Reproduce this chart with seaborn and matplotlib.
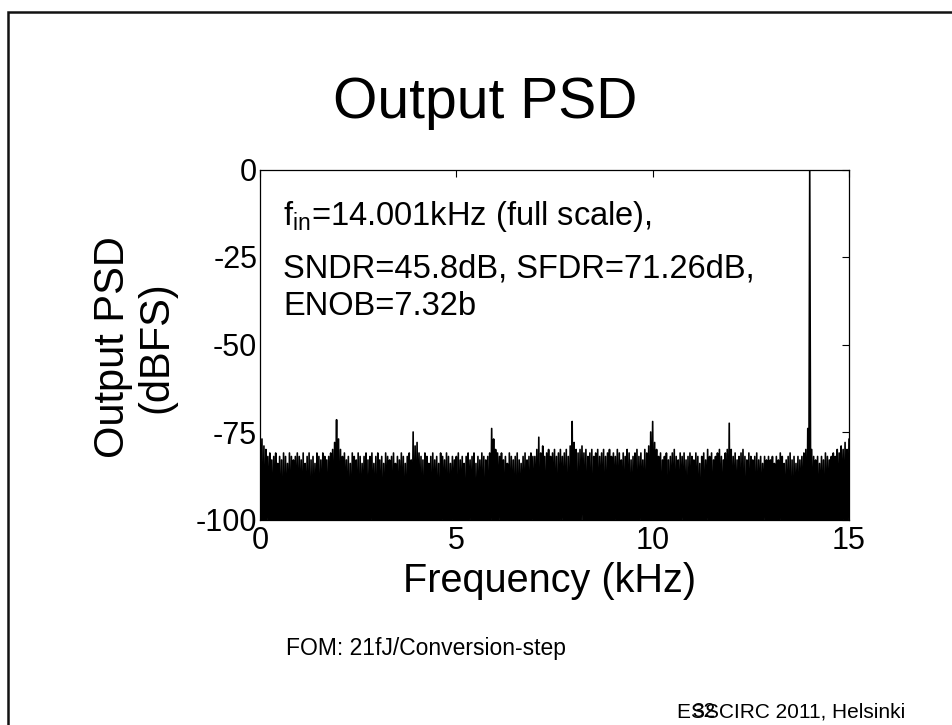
import numpy as np
import pandas as pd
import matplotlib
matplotlib.use("Agg")
import matplotlib.pyplot as plt
import seaborn as sns
from matplotlib.patches import Rectangle

# ---------------- data ----------------
bin_step_khz = 0.05
# spectrum peak values on the 0.05 kHz grid (0.00 ... 15.00 kHz), dBFS
peaks_db = [
    -70, -77, -79, -80, -82, -81, -83, -82, -81, -84, -82, -83, -81, -82, -84, -81, -82, -83, -82, -81,
    -82, -83, -81, -84, -82, -81, -83, -82, -84, -81, -82, -83, -81, -82, -83, -82, -81, -80, -78, -71.5,
    -77, -80, -82, -81, -83, -82, -84, -81, -82, -83, -81, -82, -84, -82, -81, -83, -82, -81, -84, -82,
    -81, -83, -82, -84, -81, -82, -83, -82, -81, -84, -82, -83, -81, -82, -84, -82, -81, -83, -75, -79,
    -78, -81, -82, -83, -81, -82, -84, -82, -81, -83, -82, -84, -81, -82, -83, -81, -82, -84, -82, -83,
    -82, -81, -83, -82, -84, -82, -81, -83, -82, -81, -84, -82, -83, -81, -82, -83, -82, -81, -74, -77,
    -80, -81, -82, -81, -83, -82, -84, -81, -82, -83, -82, -81, -83, -84, -82, -81, -83, -82, -81, -82,
    -82, -80, -76.5, -81, -79, -82, -81, -80, -82, -81, -80, -82, -81, -80, -82, -81, -80, -82, -79, -72,
    -78, -80, -81, -80, -79, -81, -80, -82, -81, -80, -82, -81, -80, -82, -81, -80, -82, -81, -80, -82,
    -81, -82, -80, -81, -83, -81, -82, -80, -81, -83, -82, -81, -80, -82, -81, -83, -80, -81, -79, -75,
    -72, -78, -80, -82, -81, -83, -82, -81, -83, -82, -81, -80, -82, -83, -81, -82, -81, -83, -82, -81,
    -82, -83, -81, -82, -84, -82, -81, -83, -80, -82, -81, -83, -82, -81, -80, -82, -83, -81, -80, -72.5,
    -80, -82, -81, -83, -82, -81, -80, -82, -83, -81, -82, -83, -82, -81, -83, -82, -84, -82, -83, -82,
    -83, -82, -84, -82, -83, -81, -82, -84, -83, -82, -81, -83, -82, -84, -82, -83, -82, -81, -80, -74,
    0, -80, -82, -83, -82, -84, -82, -83, -81, -82, -83, -82, -81, -82, -80, -81, -79, -80, -78, -80,
    -77,
]
# spectrum dip values halfway between the peak bins, dBFS (below the -100 floor)
dips_db = [
    -108, -115, -112, -101, -104, -117, -110, -103, -119, -106, -113, -120, -116, -109, -104, -111, -118, -105, -102, -107,
    -103, -110, -117, -105, -112, -120, -114, -108, -104, -119, -111, -106, -118, -103, -109, -101, -116, -107, -104, -120,
    -111, -119, -105, -102, -108, -115, -113, -104, -120, -107, -118, -110, -103, -106, -117, -112, -101, -105, -109, -119,
    -104, -107, -116, -110, -102, -105, -119, -112, -103, -118, -108, -101, -106, -114, -111, -104, -120, -107, -117, -109,
    -102, -106, -111, -118, -104, -120, -109, -115, -107, -103, -112, -119, -105, -101, -108, -116, -110, -104, -102, -106,
    -119, -109, -103, -106, -117, -111, -101, -104, -108, -120, -115, -107, -103, -110, -118, -105, -112, -102, -106, -120,
    -107, -101, -104, -116, -110, -103, -119, -108, -105, -112, -120, -114, -106, -102, -109, -118, -104, -111, -101, -105,
    -103, -108, -120, -105, -117, -112, -104, -119, -107, -102, -110, -116, -106, -101, -104, -109, -118, -111, -103, -120,
    -106, -119, -110, -103, -101, -107, -115, -104, -112, -120, -105, -118, -109, -102, -106, -117, -111, -104, -120, -108,
    -101, -105, -108, -117, -104, -110, -120, -106, -113, -109, -103, -119, -112, -105, -101, -107, -116, -104, -110, -102,
    -108, -103, -119, -106, -111, -120, -104, -117, -109, -102, -105, -112, -118, -107, -101, -104, -110, -115, -106, -103,
    -120, -107, -104, -110, -116, -103, -108, -101, -105, -119, -111, -104, -117, -106, -102, -109, -120, -105, -112, -118,
    -105, -102, -109, -119, -106, -104, -111, -117, -103, -108, -120, -105, -114, -110, -102, -107, -101, -104, -118, -112,
    -103, -117, -106, -110, -101, -105, -119, -108, -104, -112, -120, -116, -107, -103, -109, -102, -105, -118, -111, -104,
    -101, -108, -104, -119, -110, -103, -106, -115, -109, -102, -105, -120, -107, -118, -104, -111, -101, -106, -117, -103,
]
x_ticks = [0, 5, 10, 15]
y_ticks = [0, -25, -50, -75, -100]
title_text = "Output PSD"
xlabel_text = "Frequency (kHz)"
ylabel_text = "Output PSD\n(dBFS)"
note_lines = [r"f$_{\rm in}$=14.001kHz (full scale),",
              "SNDR=45.8dB, SFDR=71.26dB,",
              "ENOB=7.32b"]
fom_text = "FOM: 21fJ/Conversion-step"
footer_text = "ESSCIRC 2011, Helsinki"
page_text = "32"

# ---------------- build trace ----------------
peak_f = np.arange(len(peaks_db)) * bin_step_khz
dip_f = peak_f[:-1] + bin_step_khz / 2
freq = np.empty(len(peaks_db) + len(dips_db))
psd = np.empty_like(freq)
freq[0::2] = peak_f
freq[1::2] = dip_f
psd[0::2] = peaks_db
psd[1::2] = dips_db
df = pd.DataFrame({"freq": freq, "psd": psd})

# ---------------- style ----------------
sns.set_style("white")
plt.rcParams["font.family"] = ["Liberation Sans", "DejaVu Sans"]
plt.rcParams["text.color"] = "black"
plt.rcParams["axes.labelcolor"] = "black"
plt.rcParams["mathtext.fontset"] = "custom"
plt.rcParams["mathtext.rm"] = "Liberation Sans"
plt.rcParams["mathtext.it"] = "Liberation Sans"
plt.rcParams["mathtext.default"] = "regular"

W, H = 952, 725
fig = plt.figure(figsize=(W / 100, H / 100), dpi=100)
fig.patch.set_facecolor("white")

# slide border
fig.add_artist(Rectangle((8 / W, -0.2), 1.5, 1 - 12 / H + 0.2,
                         transform=fig.transFigure, fill=False,
                         edgecolor="#111111", linewidth=1.8))

ax = fig.add_axes([260 / W, 1 - 519.5 / H, (849 - 260) / W, (519.5 - 169.5) / H])
sns.lineplot(data=df, x="freq", y="psd", sort=False, estimator=None,
             color="black", linewidth=1.2, ax=ax)

ax.set_xlim(0, 15)
ax.set_ylim(-100, 0)
ax.set_xticks(x_ticks)
ax.set_yticks(y_ticks)
ax.set_xticklabels([str(v) for v in x_ticks])
ax.set_yticklabels([str(v) for v in y_ticks])
ax.tick_params(direction="in", top=True, right=True, length=5, width=0.8,
               labelsize=22, colors="black")
ax.tick_params(axis="x", pad=5)
ax.tick_params(axis="y", pad=2)
for s in ax.spines.values():
    s.set_visible(True)
    s.set_color("black")
    s.set_linewidth(0.9)
ax.set_xlabel("")
ax.set_ylabel("")

fig.text(0.5 * (403 + 697) / W, 1 - 592 / H, xlabel_text, ha="center",
         va="baseline", fontsize=28.5)
fig.text(135 / W, 1 - 347 / H, ylabel_text, ha="center", va="center",
         rotation=90, multialignment="center", fontsize=30, linespacing=1.1)
fig.text(485 / W, 1 - 118 / H, title_text, ha="center", va="baseline",
         fontsize=41)

for txt, yb in zip(note_lines, [225, 277, 315]):
    fig.text(283 / W, 1 - yb / H, txt, ha="left", va="baseline", fontsize=23.5)

fig.text(286 / W, 1 - 655 / H, fom_text, ha="left", va="baseline", fontsize=16.5)
fig.text(677 / W, 1 - 717 / H, footer_text, ha="left", va="baseline", fontsize=15)
fig.text(692 / W, 1 - 717 / H, page_text, ha="left", va="baseline", fontsize=15)

fig.savefig("out.png", dpi=100, facecolor="white")
